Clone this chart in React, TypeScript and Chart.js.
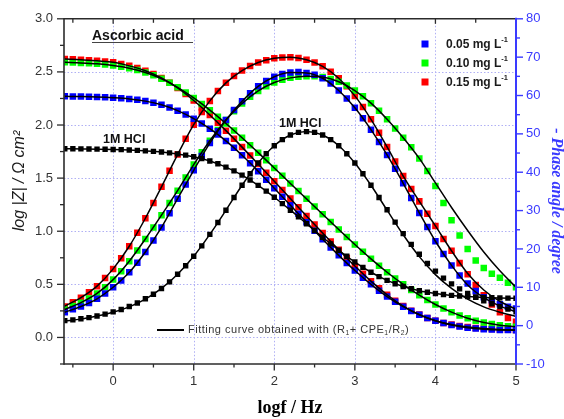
import React, { useEffect, useRef } from "react";
import { Chart, registerables } from "chart.js";

Chart.register(...registerables);

// ---------- data (log f / Hz) ----------
const logf = [-0.6, -0.5, -0.4, -0.3, -0.2, -0.1, 0, 0.1, 0.2, 0.3, 0.4, 0.5, 0.6, 0.7, 0.8, 0.9, 1, 1.1, 1.2, 1.3, 1.4, 1.5, 1.6, 1.7, 1.8, 1.9, 2, 2.1, 2.2, 2.3, 2.4, 2.5, 2.6, 2.7, 2.8, 2.9, 3, 3.1, 3.2, 3.3, 3.4, 3.5, 3.6, 3.7, 3.8, 3.9, 4, 4.1, 4.2, 4.3, 4.4, 4.5, 4.6, 4.7, 4.8, 4.9, 5];

// 1M HCl
const hclModulus = [1.777, 1.776, 1.775, 1.774, 1.773, 1.772, 1.770, 1.768, 1.765, 1.761, 1.757, 1.752, 1.746, 1.738, 1.728, 1.716, 1.701, 1.683, 1.661, 1.635, 1.604, 1.568, 1.528, 1.482, 1.432, 1.378, 1.320, 1.260, 1.198, 1.135, 1.071, 1.007, 0.943, 0.881, 0.821, 0.764, 0.710, 0.660, 0.614, 0.573, 0.537, 0.506, 0.480, 0.458, 0.440, 0.425, 0.414, 0.404, 0.396, 0.390, 0.385, 0.380, 0.377, 0.374, 0.372, 0.370, 0.369];
const hclPhase = [1.3, 1.5, 1.8, 2.1, 2.5, 3.0, 3.6, 4.2, 5.0, 5.9, 7.0, 8.2, 9.7, 11.4, 13.4, 15.6, 18.1, 20.8, 23.8, 26.9, 30.1, 33.4, 36.6, 39.6, 42.4, 44.8, 46.9, 48.5, 49.7, 50.4, 50.6, 50.4, 49.7, 48.5, 46.9, 44.8, 42.4, 39.6, 36.6, 33.4, 30.2, 27.0, 24.0, 21.2, 18.6, 16.2, 14.2, 12.4, 10.9, 9.6, 8.4, 7.4, 6.5, 5.7, 5.0, 4.3, 3.6];

// 0.05 mg/L
const c005Modulus = [2.270, 2.269, 2.268, 2.266, 2.264, 2.261, 2.257, 2.252, 2.246, 2.238, 2.225, 2.210, 2.190, 2.165, 2.135, 2.100, 2.060, 2.015, 1.965, 1.910, 1.850, 1.785, 1.715, 1.640, 1.565, 1.485, 1.405, 1.325, 1.245, 1.165, 1.085, 1.005, 0.925, 0.848, 0.773, 0.700, 0.630, 0.563, 0.500, 0.440, 0.385, 0.335, 0.290, 0.250, 0.214, 0.183, 0.157, 0.135, 0.117, 0.103, 0.092, 0.084, 0.078, 0.074, 0.071, 0.069, 0.068];
const c005Phase = [3.5, 4.3, 5.0, 5.9, 7.0, 8.4, 10.0, 11.8, 13.9, 16.4, 19.2, 22.2, 25.6, 29.3, 33.1, 36.8, 40.5, 44.2, 47.6, 50.7, 53.6, 56.2, 58.5, 60.6, 62.4, 63.8, 64.9, 65.6, 66.0, 66.1, 65.9, 65.4, 64.5, 63.1, 61.3, 59.2, 56.8, 54.1, 51.1, 47.9, 44.5, 40.9, 37.1, 33.3, 29.4, 25.7, 22.0, 18.7, 15.7, 13.1, 11.0, 9.0, 7.4, 6.6, 5.6, 4.9, 4.5];

// 0.10 mg/L
const c010Modulus = [2.590, 2.588, 2.585, 2.581, 2.576, 2.569, 2.560, 2.549, 2.535, 2.517, 2.495, 2.468, 2.436, 2.398, 2.355, 2.307, 2.255, 2.199, 2.140, 2.078, 2.014, 1.948, 1.880, 1.810, 1.740, 1.668, 1.596, 1.523, 1.450, 1.378, 1.305, 1.232, 1.160, 1.088, 1.016, 0.945, 0.875, 0.806, 0.740, 0.676, 0.614, 0.556, 0.500, 0.447, 0.398, 0.352, 0.310, 0.272, 0.238, 0.207, 0.180, 0.158, 0.140, 0.126, 0.115, 0.106, 0.100];
const c010Phase = [4.2, 5.1, 6.0, 7.1, 8.4, 10.0, 12.0, 14.2, 16.8, 19.6, 22.6, 25.6, 28.8, 32.0, 35.2, 38.6, 42.0, 45.2, 48.2, 51.0, 53.6, 55.9, 57.9, 59.7, 61.2, 62.4, 63.4, 64.1, 64.6, 64.9, 65.0, 65.0, 64.8, 64.3, 63.6, 62.6, 61.3, 59.8, 58.0, 56.0, 53.8, 51.4, 49.0, 46.5, 43.6, 40.3, 36.4, 32.0, 27.5, 23.5, 20.0, 17.0, 15.0, 13.5, 12.5, 11.2, 10.0];

// 0.15 mg/L
const c015Modulus = [2.622, 2.618, 2.615, 2.610, 2.604, 2.598, 2.591, 2.575, 2.557, 2.536, 2.511, 2.480, 2.443, 2.398, 2.349, 2.292, 2.231, 2.164, 2.095, 2.022, 1.947, 1.870, 1.792, 1.712, 1.632, 1.551, 1.470, 1.389, 1.307, 1.226, 1.144, 1.063, 0.983, 0.904, 0.825, 0.748, 0.672, 0.600, 0.530, 0.464, 0.402, 0.346, 0.295, 0.252, 0.215, 0.184, 0.158, 0.137, 0.121, 0.108, 0.098, 0.090, 0.084, 0.079, 0.075, 0.072, 0.070];
const c015Phase = [5.0, 6.1, 7.3, 8.7, 10.3, 12.4, 14.8, 17.6, 20.7, 24.2, 28.0, 32.0, 36.2, 40.4, 44.6, 48.7, 52.4, 55.7, 58.6, 61.2, 63.3, 65.1, 66.5, 67.7, 68.6, 69.2, 69.7, 69.9, 70.0, 69.8, 69.3, 68.6, 67.6, 66.2, 64.5, 62.4, 59.9, 57.0, 53.8, 50.3, 46.6, 42.8, 39.0, 35.6, 32.4, 29.2, 26.0, 22.6, 19.5, 16.3, 13.4, 10.6, 7.9, 5.5, 3.5, 2.0, 1.0];

// fitted curves (R1 + CPE1/R2)
const fitLogf = [-0.6, -0.4, -0.2, 0, 0.2, 0.4, 0.6, 0.8, 1, 1.2, 1.4, 1.6, 1.8, 2, 2.2, 2.4, 2.6, 2.8, 3, 3.2, 3.4, 3.6, 3.8, 4, 4.2, 4.4, 4.6, 4.8, 5];
const fitHclModulus = [1.777, 1.775, 1.773, 1.770, 1.765, 1.757, 1.746, 1.728, 1.701, 1.661, 1.604, 1.528, 1.432, 1.320, 1.198, 1.071, 0.943, 0.821, 0.710, 0.614, 0.537, 0.480, 0.440, 0.414, 0.396, 0.385, 0.377, 0.372, 0.369];
const fitHclPhase = [1.2, 1.7, 2.5, 3.5, 4.9, 6.9, 9.7, 13.4, 18.1, 23.8, 30.1, 36.6, 42.4, 46.9, 49.7, 50.6, 49.7, 46.9, 42.4, 36.6, 30.1, 23.7, 18.0, 13.3, 9.7, 6.9, 4.9, 3.5, 2.4];
const fit005Modulus = [2.270, 2.268, 2.264, 2.257, 2.246, 2.225, 2.190, 2.135, 2.060, 1.965, 1.850, 1.715, 1.565, 1.405, 1.245, 1.085, 0.925, 0.773, 0.630, 0.500, 0.385, 0.290, 0.214, 0.157, 0.117, 0.092, 0.078, 0.071, 0.068];
const fit005Phase = [3.5, 5.0, 7.0, 10.0, 13.9, 19.2, 25.6, 33.1, 40.5, 47.6, 53.6, 58.5, 62.4, 64.9, 66.0, 65.9, 64.5, 61.3, 56.8, 51.1, 44.5, 37.1, 29.4, 22.0, 15.7, 10.6, 7.3, 5.1, 3.6];
const fit010Modulus = [2.590, 2.585, 2.576, 2.560, 2.535, 2.495, 2.436, 2.355, 2.255, 2.140, 2.014, 1.880, 1.740, 1.596, 1.450, 1.305, 1.160, 1.016, 0.875, 0.740, 0.614, 0.500, 0.398, 0.310, 0.238, 0.180, 0.140, 0.115, 0.100];
const fit010Phase = [4.2, 6.0, 8.4, 12.0, 16.8, 22.6, 28.8, 35.2, 42.0, 48.2, 53.6, 57.9, 61.2, 63.4, 64.6, 65.0, 64.8, 63.6, 61.3, 58.0, 53.8, 49.0, 43.6, 37.2, 30.8, 24.8, 19.2, 14.3, 10.0];
const fit015Modulus = [2.622, 2.615, 2.604, 2.591, 2.557, 2.511, 2.443, 2.349, 2.231, 2.095, 1.947, 1.792, 1.632, 1.470, 1.307, 1.144, 0.983, 0.825, 0.672, 0.530, 0.402, 0.295, 0.215, 0.158, 0.121, 0.098, 0.084, 0.075, 0.070];
const fit015Phase = [5.1, 7.3, 10.3, 14.8, 20.7, 28.0, 36.2, 44.6, 52.4, 58.6, 63.3, 66.5, 68.6, 69.7, 70.0, 69.3, 67.6, 64.5, 59.9, 53.8, 46.6, 39.0, 32.4, 26.0, 19.5, 13.6, 9.3, 6.3, 4.3];

// axes
const xTickValues = [0, 1, 2, 3, 4, 5];
const xMinorValues = [-0.5, 0.5, 1.5, 2.5, 3.5, 4.5];
const xGridValues = [0, 1, 2, 3, 4];
const leftTickValues = [0, 0.5, 1, 1.5, 2, 2.5, 3];
const leftMinorValues = [-0.25, 0.25, 0.75, 1.25, 1.75, 2.25, 2.75];
const leftGridValues = [0, 0.5, 1, 1.5, 2, 2.5];
const rightTickValues = [-10, 0, 10, 20, 30, 40, 50, 60, 70, 80];
const rightMinorValues = [-5, 5, 15, 25, 35, 45, 55, 65, 75];

const seriesLabels = ["0.05 mg L", "0.10 mg L", "0.15 mg L"];
const seriesColors = ["#0000ff", "#00ff00", "#ff0000"];

const SANS = '"Liberation Sans", Arial, sans-serif';
const SERIF = '"Liberation Serif", "Times New Roman", serif';
const AXIS_BLUE = "#3a3aff";
const GRID_COLOR = "#b0b0f4";
const FRAME = "#2b2b2b";

const pts = (xs: number[], ys: number[]) => xs.map((x, i) => ({ x, y: ys[i] }));

type Part = { t: string; s?: "sub" | "sup" };

function drawRich(ctx: CanvasRenderingContext2D, x: number, y: number, parts: Part[], size: number, weight: string, family: string) {
  let cx = x;
  for (const p of parts) {
    const fs = p.s ? size * 0.62 : size;
    ctx.font = `${weight} ${fs}px ${family}`;
    const dy = p.s === "sub" ? size * 0.3 : p.s === "sup" ? -size * 0.38 : 0;
    ctx.fillText(p.t, cx, y + dy);
    cx += ctx.measureText(p.t).width;
  }
  return cx;
}

function seg(ctx: CanvasRenderingContext2D, x1: number, y1: number, x2: number, y2: number) {
  ctx.beginPath();
  ctx.moveTo(x1, y1);
  ctx.lineTo(x2, y2);
  ctx.stroke();
}

const decorPlugin = {
  id: "decor",
  beforeDatasetsDraw(chart: any) {
    const { ctx, chartArea: a, scales } = chart;
    ctx.save();
    ctx.strokeStyle = GRID_COLOR;
    ctx.lineWidth = 1;
    ctx.setLineDash([1.5, 2]);
    xGridValues.forEach((v) => {
      const p = Math.round(scales.x.getPixelForValue(v)) + 0.5;
      seg(ctx, p, a.top, p, a.bottom);
    });
    leftGridValues.forEach((v) => {
      const p = Math.round(scales.y.getPixelForValue(v)) + 0.5;
      seg(ctx, a.left, p, a.right, p);
    });
    ctx.restore();
  },
  afterDatasetsDraw(chart: any) {
    const { ctx, chartArea: a, scales } = chart;
    const sx = scales.x, sy = scales.y, sr = scales.y1;
    ctx.save();
    ctx.setLineDash([]);
    // frame
    ctx.strokeStyle = FRAME;
    ctx.lineWidth = 1.6;
    seg(ctx, a.left, a.top, a.right, a.top);
    seg(ctx, a.left, a.top - 0.8, a.left, a.bottom + 0.8);
    seg(ctx, a.left, a.bottom, a.right, a.bottom);
    // bottom ticks
    ctx.lineWidth = 1.3;
    xTickValues.forEach((v) => { const p = sx.getPixelForValue(v); seg(ctx, p, a.bottom, p, a.bottom + 6.5); });
    xMinorValues.forEach((v) => { const p = sx.getPixelForValue(v); seg(ctx, p, a.bottom, p, a.bottom + 3.5); });
    // top ticks (inward)
    xTickValues.forEach((v) => { const p = sx.getPixelForValue(v); seg(ctx, p, a.top, p, a.top + 5); });
    xMinorValues.forEach((v) => { const p = sx.getPixelForValue(v); seg(ctx, p, a.top, p, a.top + 4); });
    // left ticks
    leftTickValues.forEach((v) => { const p = sy.getPixelForValue(v); seg(ctx, a.left, p, a.left - 7, p); });
    leftMinorValues.forEach((v) => { const p = sy.getPixelForValue(v); seg(ctx, a.left, p, a.left - 4, p); });
    // right axis (blue)
    ctx.strokeStyle = AXIS_BLUE;
    ctx.lineWidth = 2;
    seg(ctx, a.right, a.top - 1, a.right, a.bottom + 1);
    ctx.lineWidth = 1.4;
    rightTickValues.forEach((v) => { const p = sr.getPixelForValue(v); seg(ctx, a.right, p, a.right + 7, p); });
    rightMinorValues.forEach((v) => { const p = sr.getPixelForValue(v); seg(ctx, a.right, p, a.right + 4, p); });

    // axis titles
    ctx.fillStyle = "#1a1a1a";
    ctx.textAlign = "center";
    ctx.textBaseline = "middle";
    ctx.save();
    ctx.translate(20, 181);
    ctx.rotate(-Math.PI / 2);
    ctx.font = `italic 16px ${SANS}`;
    ctx.fillText("log |Z| / \u03A9 cm\u00B2", 0, 0);
    ctx.restore();

    ctx.save();
    ctx.fillStyle = AXIS_BLUE;
    ctx.translate(556, 201);
    ctx.rotate(Math.PI / 2);
    ctx.font = `italic bold 16px ${SERIF}`;
    ctx.fillText("- Phase angle / degree", 0, 0);
    ctx.restore();

    // annotations
    ctx.textAlign = "left";
    ctx.textBaseline = "alphabetic";
    ctx.fillStyle = "#111";
    ctx.font = `bold 14px ${SANS}`;
    ctx.fillText("Ascorbic acid", 92, 40);
    ctx.strokeStyle = "#444";
    ctx.lineWidth = 1;
    seg(ctx, 92, 42.5, 193, 42.5);

    ctx.font = `bold 12.5px ${SANS}`;
    ctx.fillText("1M HCl", 103, 142.5);
    ctx.fillText("1M HCl", 279, 126.5);

    // legend (top right)
    const rows = [44, 63, 82];
    seriesLabels.forEach((lab, i) => {
      ctx.fillStyle = seriesColors[i];
      ctx.fillRect(421.5, rows[i] - 3.5, 7, 7);
      ctx.fillStyle = "#1a1a1a";
      ctx.textBaseline = "middle";
      drawRich(ctx, 446, rows[i] + 0.5, [{ t: lab }, { t: "-1", s: "sup" }], 12, "bold", SANS);
    });

    // fit legend (bottom)
    ctx.strokeStyle = "#000";
    ctx.lineWidth = 2;
    seg(ctx, 157, 330, 184, 330);
    ctx.fillStyle = "#333";
    ctx.textBaseline = "middle";
    (ctx as any).letterSpacing = "0.5px";
    drawRich(ctx, 188, 330, [
      { t: "Fitting curve obtained with (R" }, { t: "1", s: "sub" }, { t: "+ CPE" }, { t: "1", s: "sub" },
      { t: "/R" }, { t: "2", s: "sub" }, { t: ")" },
    ], 11, "normal", SANS);
    (ctx as any).letterSpacing = "0px";
    ctx.restore();
  },
};

function markerSet(xs: number[], ys: number[], color: string, axis: string, r: number) {
  return {
    data: pts(xs, ys),
    yAxisID: axis,
    showLine: false,
    pointStyle: "rect",
    pointRadius: r,
    pointHoverRadius: r,
    pointBackgroundColor: color,
    pointBorderWidth: 0,
    backgroundColor: color,
    borderColor: color,
    order: 2,
  };
}

function fitSet(ys: number[], axis: string) {
  return {
    data: pts(fitLogf, ys),
    yAxisID: axis,
    showLine: true,
    pointRadius: 0,
    borderColor: "#000",
    borderWidth: 1.5,
    cubicInterpolationMode: "monotone",
    fill: false,
    order: 0,
  };
}

export default function App() {
  const ref = useRef<HTMLCanvasElement>(null);
  useEffect(() => {
    const canvas = ref.current;
    if (!canvas) return;
    const datasets: any[] = [
      markerSet(logf, hclModulus, "#000", "y", 3.8),
      markerSet(logf, hclPhase, "#000", "y1", 3.8),
      markerSet(logf, c005Modulus, seriesColors[0], "y", 4.6),
      markerSet(logf, c005Phase, seriesColors[0], "y1", 4.6),
      markerSet(logf, c010Modulus, seriesColors[1], "y", 4.6),
      markerSet(logf, c010Phase, seriesColors[1], "y1", 4.6),
      markerSet(logf, c015Modulus, seriesColors[2], "y", 4.6),
      markerSet(logf, c015Phase, seriesColors[2], "y1", 4.6),
      fitSet(fitHclModulus, "y"),
      fitSet(fitHclPhase, "y1"),
      fitSet(fit005Modulus, "y"),
      fitSet(fit005Phase, "y1"),
      fitSet(fit010Modulus, "y"),
      fitSet(fit010Phase, "y1"),
      fitSet(fit015Modulus, "y"),
      fitSet(fit015Phase, "y1"),
    ];
    const chart = new Chart(canvas, {
      type: "scatter",
      data: { datasets },
      plugins: [decorPlugin],
      options: {
        animation: false,
        responsive: false,
        devicePixelRatio: 1,
        layout: { padding: { top: 17, left: 0, right: 0, bottom: 0 } },
        plugins: { legend: { display: false }, tooltip: { enabled: false } },
        scales: {
          x: {
            type: "linear",
            position: "bottom",
            min: -0.61,
            max: 5,
            afterBuildTicks: (s: any) => { s.ticks = xTickValues.map((v) => ({ value: v })); },
            afterFit: (s: any) => { s.height = 55; },
            grid: { display: false, drawTicks: false },
            border: { display: false },
            ticks: { padding: 10, color: "#333", font: { family: SANS, size: 13 }, callback: (v: any) => String(v) },
            title: { display: true, text: "logf / Hz", color: "#000", font: { family: SERIF, size: 18, weight: "bold" }, padding: { top: 0, bottom: 0 } },
          },
          y: {
            type: "linear",
            position: "left",
            min: -0.25,
            max: 3,
            afterBuildTicks: (s: any) => { s.ticks = leftTickValues.map((v) => ({ value: v })); },
            afterFit: (s: any) => { s.width = 64; },
            grid: { display: false, drawTicks: false },
            border: { display: false },
            ticks: { padding: 11, color: "#333", font: { family: SANS, size: 13 }, callback: (v: any) => Number(v).toFixed(1) },
          },
          y1: {
            type: "linear",
            position: "right",
            min: -10,
            max: 80,
            afterBuildTicks: (s: any) => { s.ticks = rightTickValues.map((v) => ({ value: v })); },
            afterFit: (s: any) => { s.width = 48; },
            grid: { display: false, drawTicks: false },
            border: { display: false },
            ticks: { padding: 10, color: AXIS_BLUE, font: { family: SANS, size: 13 }, callback: (v: any) => String(v) },
          },
        },
      } as any,
    });
    return () => chart.destroy();
  }, []);
  return (
    <div style={{ position: "fixed", left: 0, top: 0, width: 564, height: 419, background: "#fff" }}>
      <canvas ref={ref} width={564} height={419} style={{ display: "block" }} />
    </div>
  );
}
